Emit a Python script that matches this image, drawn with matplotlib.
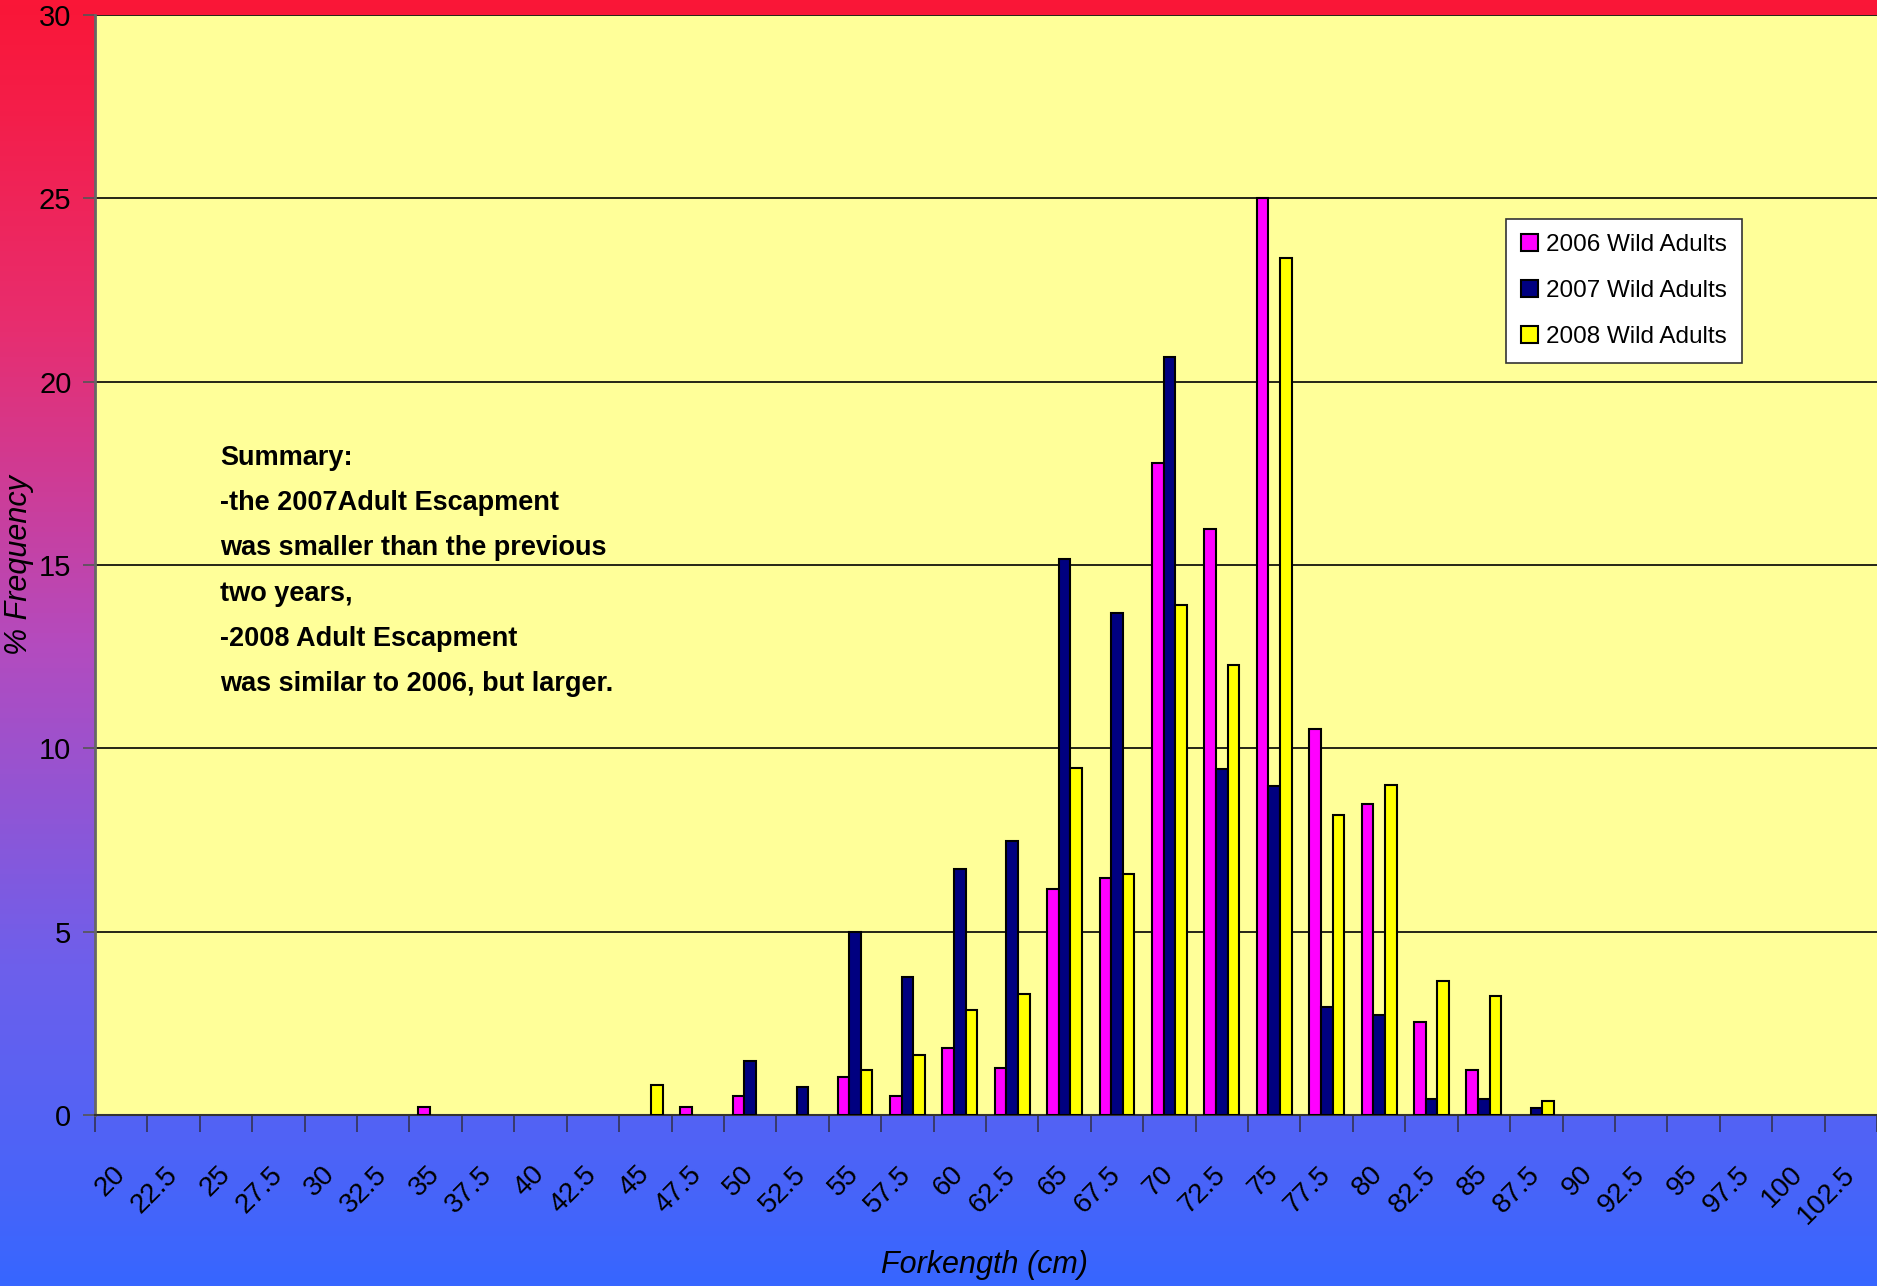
import numpy as np
import matplotlib
matplotlib.use('Agg')
import matplotlib.pyplot as plt
from matplotlib.colors import LinearSegmentedColormap

# category labels (forklength bins, cm)
categories = ["20", "22.5", "25", "27.5", "30", "32.5", "35", "37.5", "40", "42.5",
              "45", "47.5", "50", "52.5", "55", "57.5", "60", "62.5", "65", "67.5",
              "70", "72.5", "75", "77.5", "80", "82.5", "85", "87.5", "90", "92.5",
              "95", "97.5", "100", "102.5"]

# % frequency per bin
wild_2006 = [0, 0, 0, 0, 0, 0, 0.23, 0, 0, 0,
             0, 0.23, 0.53, 0, 1.05, 0.53, 1.82, 1.29, 6.17, 6.47,
             17.78, 15.97, 25.0, 10.53, 8.48, 2.55, 1.24, 0, 0, 0,
             0, 0, 0, 0]
wild_2007 = [0, 0, 0, 0, 0, 0, 0, 0, 0, 0,
             0, 0, 1.47, 0.76, 5.0, 3.76, 6.71, 7.46, 15.16, 13.70,
             20.66, 9.44, 8.96, 2.95, 2.72, 0.45, 0.45, 0.18, 0, 0,
             0, 0, 0, 0]
wild_2008 = [0, 0, 0, 0, 0, 0, 0, 0, 0, 0,
             0.82, 0, 0, 0, 1.22, 1.64, 2.87, 3.29, 9.46, 6.58,
             13.91, 12.26, 23.36, 8.18, 9.01, 3.66, 3.25, 0.38, 0, 0,
             0, 0, 0, 0]

series_names = ["2006 Wild Adults", "2007 Wild Adults", "2008 Wild Adults"]
colors = ["#FF00FF", "#000080", "#FFFF00"]

summary = ("Summary:\n-the 2007Adult Escapment\nwas smaller than the previous\n"
           "two years,\n-2008 Adult Escapment\nwas similar to 2006, but larger.")

plt.rcParams['font.family'] = ['Liberation Sans', 'DejaVu Sans']

fig = plt.figure(figsize=(18.77, 12.86), dpi=100)

# background gradient red -> blue
bg = fig.add_axes([0, 0, 1, 1], zorder=0)
grad_cmap = LinearSegmentedColormap.from_list("bg", [
    (0.0, (250/255, 22/255, 55/255)),
    (0.25, (232/255, 45/255, 110/255)),
    (0.5, (180/255, 75/255, 190/255)),
    (0.75, (110/255, 95/255, 235/255)),
    (1.0, (55/255, 102/255, 255/255))])
bg.imshow(np.linspace(0, 1, 256).reshape(-1, 1), cmap=grad_cmap, aspect='auto', extent=[0, 1, 0, 1])
bg.axis('off')

ax = fig.add_axes([95/1877, 171/1286, 1782/1877, 1100/1286], zorder=1)
ax.set_facecolor("#FFFF99")

x = np.arange(len(categories))
w = 1 / 4.5
for i, (vals, name, c) in enumerate(zip([wild_2006, wild_2007, wild_2008], series_names, colors)):
    lw = [1.5 if v > 0 else 0 for v in vals]  # no outline for empty bins
    ax.bar(x + (i - 1) * w, vals, w, color=c, edgecolor="black", linewidth=lw, label=name, zorder=3)

ax.set_xlim(-0.5, len(categories) - 0.5)
ax.set_ylim(0, 30)
ax.set_yticks(np.arange(0, 31, 5))
ax.yaxis.grid(True, color="black", linewidth=1.2, zorder=1)
ax.set_axisbelow(True)
ax.tick_params(axis='y', direction='out', length=9, width=1.2, color="#555555", labelsize=21, pad=8)

ax.set_xticks(x)
ax.set_xticklabels(categories, rotation=45, ha='right', va='center', rotation_mode='anchor', fontsize=20)
ax.set_xticks(np.arange(-0.5, len(categories), 1), minor=True)
ax.tick_params(axis='x', which='major', length=0, pad=40)
ax.tick_params(axis='x', which='minor', direction='out', length=12, width=1.2, color="#333355")

for s in ['top', 'right']:
    ax.spines[s].set_visible(False)
ax.spines['left'].set_color("#666666")
ax.spines['left'].set_linewidth(2)
ax.spines['bottom'].set_color("#333333")
ax.spines['bottom'].set_linewidth(1.5)

ax.set_ylabel("% Frequency", fontsize=22, style='italic')
ax.yaxis.set_label_coords((34 - 95) / 1782, 0.5)
ax.set_xlabel("Forkength (cm)", fontsize=22, style='italic')
ax.xaxis.set_label_coords((984 - 95) / 1782, (1115 - 1250) / 1100)

ax.text((220 - 95) / 1782, (1115 - 445) / 1100, summary, transform=ax.transAxes,
        fontsize=19.5, fontweight='bold', va='top', ha='left', linespacing=1.96)

leg = ax.legend(loc='upper left', bbox_to_anchor=((1506 - 95) / 1782, (1115 - 219) / 1100),
                borderaxespad=0, fontsize=17.5, frameon=True, fancybox=False, edgecolor="#333333",
                handlelength=0.7, handleheight=0.7, handletextpad=0.35, labelspacing=1.0,
                borderpad=0.6)
for h in leg.legend_handles:
    h.set_linewidth(1.5)
    h.set_edgecolor("black")
leg.get_frame().set_linewidth(1.2)
leg.get_frame().set_facecolor("white")
leg.get_frame().set_alpha(1)

fig.savefig("out.png", dpi=100)
